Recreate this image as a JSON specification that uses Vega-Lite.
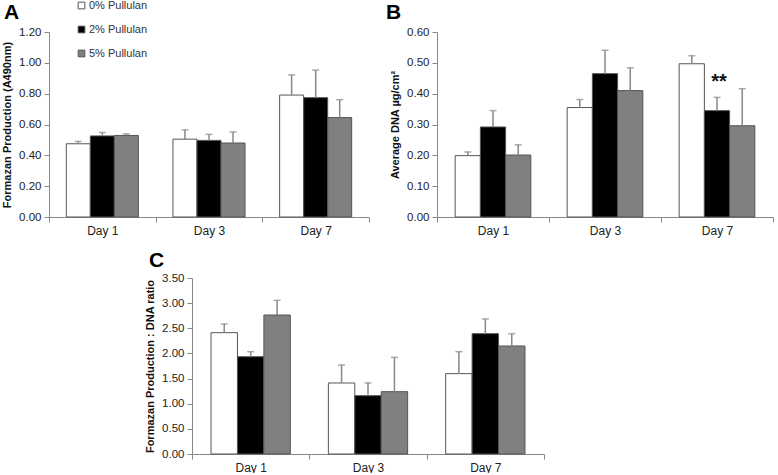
{
  "$schema": "https://vega.github.io/schema/vega-lite/v6.json",
  "padding": {"left": 1, "top": 0, "right": 0, "bottom": 0},
  "background": "white",
  "config": {
    "font": "Liberation Sans",
    "view": {"stroke": null},
    "axis": {"domainColor": "#888", "tickColor": "#888", "labelColor": "#222", "titleColor": "#111", "grid": false, "tickSize": 5, "labelFont": "Liberation Sans", "titleFont": "Liberation Sans"},
    "axisY": {"labelFontSize": 11.5, "format": ".2f", "titleFontSize": 11, "titleFontWeight": "bold", "labelPadding": 3, "titlePadding": 6, "labelOverlap": false},
    "axisX": {"labelFontSize": 12, "labelAngle": 0, "tickBand": "extent", "labelPadding": 3},
    "title": {"fontSize": 21, "fontWeight": "bold", "anchor": "start", "frame": "group", "color": "#000", "font": "Liberation Sans"}
  },
  "datasets": {
    "A": [
      {"day": "Day 1", "group": "0% Pullulan", "mean": 0.475, "upper": 0.490},
      {"day": "Day 1", "group": "2% Pullulan", "mean": 0.526, "upper": 0.548},
      {"day": "Day 1", "group": "5% Pullulan", "mean": 0.529, "upper": 0.539},
      {"day": "Day 3", "group": "0% Pullulan", "mean": 0.505, "upper": 0.565},
      {"day": "Day 3", "group": "2% Pullulan", "mean": 0.497, "upper": 0.536},
      {"day": "Day 3", "group": "5% Pullulan", "mean": 0.480, "upper": 0.552},
      {"day": "Day 7", "group": "0% Pullulan", "mean": 0.791, "upper": 0.922},
      {"day": "Day 7", "group": "2% Pullulan", "mean": 0.774, "upper": 0.953},
      {"day": "Day 7", "group": "5% Pullulan", "mean": 0.645, "upper": 0.761}
    ],
    "B": [
      {"day": "Day 1", "group": "0% Pullulan", "mean": 0.199, "upper": 0.211},
      {"day": "Day 1", "group": "2% Pullulan", "mean": 0.292, "upper": 0.345},
      {"day": "Day 1", "group": "5% Pullulan", "mean": 0.201, "upper": 0.234},
      {"day": "Day 3", "group": "0% Pullulan", "mean": 0.355, "upper": 0.381},
      {"day": "Day 3", "group": "2% Pullulan", "mean": 0.465, "upper": 0.541},
      {"day": "Day 3", "group": "5% Pullulan", "mean": 0.410, "upper": 0.484},
      {"day": "Day 7", "group": "0% Pullulan", "mean": 0.497, "upper": 0.523},
      {"day": "Day 7", "group": "2% Pullulan", "mean": 0.345, "upper": 0.388},
      {"day": "Day 7", "group": "5% Pullulan", "mean": 0.296, "upper": 0.416}
    ],
    "Bsig": [
      {"day": "Day 7", "group": "2% Pullulan", "pos": 0.42, "label": "**"}
    ],
    "C": [
      {"day": "Day 1", "group": "0% Pullulan", "mean": 2.413, "upper": 2.585},
      {"day": "Day 1", "group": "2% Pullulan", "mean": 1.935, "upper": 2.035},
      {"day": "Day 1", "group": "5% Pullulan", "mean": 2.764, "upper": 3.056},
      {"day": "Day 3", "group": "0% Pullulan", "mean": 1.412, "upper": 1.770},
      {"day": "Day 3", "group": "2% Pullulan", "mean": 1.160, "upper": 1.412},
      {"day": "Day 3", "group": "5% Pullulan", "mean": 1.240, "upper": 1.922},
      {"day": "Day 7", "group": "0% Pullulan", "mean": 1.598, "upper": 2.035},
      {"day": "Day 7", "group": "2% Pullulan", "mean": 2.393, "upper": 2.685},
      {"day": "Day 7", "group": "5% Pullulan", "mean": 2.148, "upper": 2.393}
    ]
  },
  "resolve": {"scale": {"x": "independent", "y": "independent", "xOffset": "independent"}},
  "spacing": 14,
  "vconcat": [
    {
      "spacing": 16,
      "resolve": {"scale": {"x": "independent", "y": "independent", "xOffset": "independent"}},
      "hconcat": [
        {
          "width": 320,
          "height": 185,
          "title": {"text": "A", "dx": -45, "offset": 3},
          "data": {"name": "A"},
          "encoding": {
            "x": {"field": "day", "type": "nominal", "title": null, "scale": {"paddingInner": 0, "paddingOuter": 0}},
            "xOffset": {"field": "group", "type": "nominal", "scale": {"paddingInner": 0, "paddingOuter": 0.72}}
          },
          "layer": [
            {
              "mark": {"type": "bar", "stroke": "#555", "strokeWidth": 1},
              "encoding": {
                "y": {"field": "mean", "type": "quantitative", "title": "Formazan Production (A490nm)", "scale": {"domain": [0, 1.2], "nice": false}, "axis": {"values": [0, 0.2, 0.4, 0.6, 0.8, 1.0, 1.2]}},
                "fill": {"field": "group", "type": "nominal", "scale": {"domain": ["0% Pullulan", "2% Pullulan", "5% Pullulan"], "range": ["#ffffff", "#000000", "#808080"]},
                  "legend": {"orient": "none", "legendX": 27, "legendY": -32, "title": null, "symbolType": "square", "symbolSize": 45, "labelFontSize": 11, "rowPadding": 12, "symbolStrokeColor": "#555", "symbolStrokeWidth": 1, "labelOffset": 2, "labelColor": "#333", "padding": 0}}
              }
            },
            {
              "mark": {"type": "rule", "color": "#888", "strokeWidth": 1.5},
              "encoding": {"y": {"field": "mean", "type": "quantitative", "title": "Formazan Production (A490nm)", "scale": {"domain": [0, 1.2], "nice": false}, "axis": {"values": [0, 0.2, 0.4, 0.6, 0.8, 1.0, 1.2]}}, "y2": {"field": "upper"}}
            },
            {
              "mark": {"type": "tick", "color": "#888", "thickness": 1.5, "size": 7},
              "encoding": {"y": {"field": "upper", "type": "quantitative", "title": "Formazan Production (A490nm)", "scale": {"domain": [0, 1.2], "nice": false}, "axis": {"values": [0, 0.2, 0.4, 0.6, 0.8, 1.0, 1.2]}}}
            }
          ]
        },
        {
          "width": 336,
          "height": 185,
          "title": {"text": "B", "dx": -51, "offset": 3},
          "encoding": {
            "x": {"field": "day", "type": "nominal", "title": null, "scale": {"paddingInner": 0, "paddingOuter": 0}},
            "xOffset": {"field": "group", "type": "nominal", "scale": {"paddingInner": 0, "paddingOuter": 0.72}}
          },
          "layer": [
            {
              "data": {"name": "B"},
              "mark": {"type": "bar", "stroke": "#555", "strokeWidth": 1},
              "encoding": {
                "y": {"field": "mean", "type": "quantitative", "title": "Average DNA µg/cm²", "scale": {"domain": [0, 0.6], "nice": false}, "axis": {"values": [0, 0.1, 0.2, 0.3, 0.4, 0.5, 0.6]}},
                "fill": {"field": "group", "type": "nominal"}
              }
            },
            {
              "data": {"name": "B"},
              "mark": {"type": "rule", "color": "#888", "strokeWidth": 1.5},
              "encoding": {"y": {"field": "mean", "type": "quantitative", "title": "Average DNA µg/cm²", "scale": {"domain": [0, 0.6], "nice": false}, "axis": {"values": [0, 0.1, 0.2, 0.3, 0.4, 0.5, 0.6]}}, "y2": {"field": "upper"}}
            },
            {
              "data": {"name": "B"},
              "mark": {"type": "tick", "color": "#888", "thickness": 1.5, "size": 7},
              "encoding": {"y": {"field": "upper", "type": "quantitative", "title": "Average DNA µg/cm²", "scale": {"domain": [0, 0.6], "nice": false}, "axis": {"values": [0, 0.1, 0.2, 0.3, 0.4, 0.5, 0.6]}}}
            },
            {
              "data": {"name": "Bsig"},
              "mark": {"type": "text", "fontSize": 20, "fontWeight": "bold", "color": "#111", "baseline": "alphabetic", "dx": 2},
              "encoding": {"y": {"field": "pos", "type": "quantitative", "title": "Average DNA µg/cm²", "scale": {"domain": [0, 0.6], "nice": false}, "axis": {"values": [0, 0.1, 0.2, 0.3, 0.4, 0.5, 0.6]}}, "text": {"field": "label"}}
            }
          ]
        }
      ]
    },
    {
      "spacing": 0,
      "resolve": {"scale": {"x": "independent", "y": "independent", "xOffset": "independent"}},
      "hconcat": [
        {
          "width": 95,
          "height": 176,
          "data": {"values": []},
          "mark": "point"
        },
        {
          "width": 352,
          "height": 176,
          "title": {"text": "C", "dx": -43, "offset": 1},
          "data": {"name": "C"},
          "encoding": {
            "x": {"field": "day", "type": "nominal", "title": null, "scale": {"paddingInner": 0, "paddingOuter": 0}},
            "xOffset": {"field": "group", "type": "nominal", "scale": {"paddingInner": 0, "paddingOuter": 0.72}}
          },
          "layer": [
            {
              "mark": {"type": "bar", "stroke": "#555", "strokeWidth": 1},
              "encoding": {
                "y": {"field": "mean", "type": "quantitative", "title": "Formazan Production : DNA ratio", "scale": {"domain": [0, 3.5], "nice": false}, "axis": {"values": [0, 0.5, 1, 1.5, 2, 2.5, 3, 3.5]}},
                "fill": {"field": "group", "type": "nominal"}
              }
            },
            {
              "mark": {"type": "rule", "color": "#888", "strokeWidth": 1.5},
              "encoding": {"y": {"field": "mean", "type": "quantitative", "title": "Formazan Production : DNA ratio", "scale": {"domain": [0, 3.5], "nice": false}, "axis": {"values": [0, 0.5, 1, 1.5, 2, 2.5, 3, 3.5]}}, "y2": {"field": "upper"}}
            },
            {
              "mark": {"type": "tick", "color": "#888", "thickness": 1.5, "size": 7},
              "encoding": {"y": {"field": "upper", "type": "quantitative", "title": "Formazan Production : DNA ratio", "scale": {"domain": [0, 3.5], "nice": false}, "axis": {"values": [0, 0.5, 1, 1.5, 2, 2.5, 3, 3.5]}}}
            }
          ]
        }
      ]
    }
  ]
}
